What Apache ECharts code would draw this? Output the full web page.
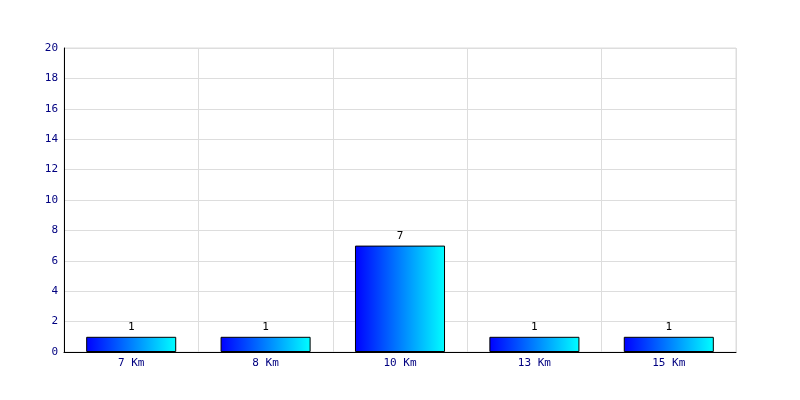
<!DOCTYPE html>
<html>
<head>
<meta charset="utf-8">
<script src="https://cdn.jsdelivr.net/npm/echarts@6/dist/echarts.min.js"></script>
<style>html,body{margin:0;padding:0;background:#fff}#c{width:800px;height:400px}</style>
</head>
<body>
<div id="c"></div>
<script>
var categories = ['7 Km', '8 Km', '10 Km', '13 Km', '15 Km'];
var values = [1, 1, 7, 1, 1];
var yTicks = [0, 2, 4, 6, 8, 10, 12, 14, 16, 18, 20];

var chart = echarts.init(document.getElementById('c'), null, {renderer: 'canvas'});
var font = 'DejaVu Sans Mono';
chart.setOption({
  animation: false,
  backgroundColor: '#ffffff',
  grid: {left: 64, right: 64, top: 48, bottom: 48, show: true, borderColor: '#dddddd', borderWidth: 1},
  xAxis: {
    type: 'category',
    data: categories,
    axisLine: {lineStyle: {color: '#000000', width: 1}},
    axisTick: {show: false},
    axisLabel: {color: '#000080', fontFamily: font, fontSize: 11, margin: 6},
    splitLine: {show: true, lineStyle: {color: '#dddddd', width: 1}}
  },
  yAxis: {
    type: 'value',
    min: yTicks[0],
    max: yTicks[yTicks.length - 1],
    interval: 2,
    axisLine: {show: true, lineStyle: {color: '#000000', width: 1}},
    axisTick: {show: false},
    axisLabel: {color: '#000080', fontFamily: font, fontSize: 11, margin: 6},
    splitLine: {show: true, lineStyle: {color: '#dddddd', width: 1}}
  },
  series: [{
    type: 'bar',
    data: values,
    barCategoryGap: '33%',
    itemStyle: {
      color: new echarts.graphic.LinearGradient(0, 0, 1, 0, [
        {offset: 0, color: '#0000ff'},
        {offset: 1, color: '#00ffff'}
      ]),
      borderColor: '#000000',
      borderWidth: 1
    },
    label: {show: true, position: 'top', color: '#000000', fontFamily: font, fontSize: 11, distance: 4}
  }]
});
</script>
</body>
</html>
